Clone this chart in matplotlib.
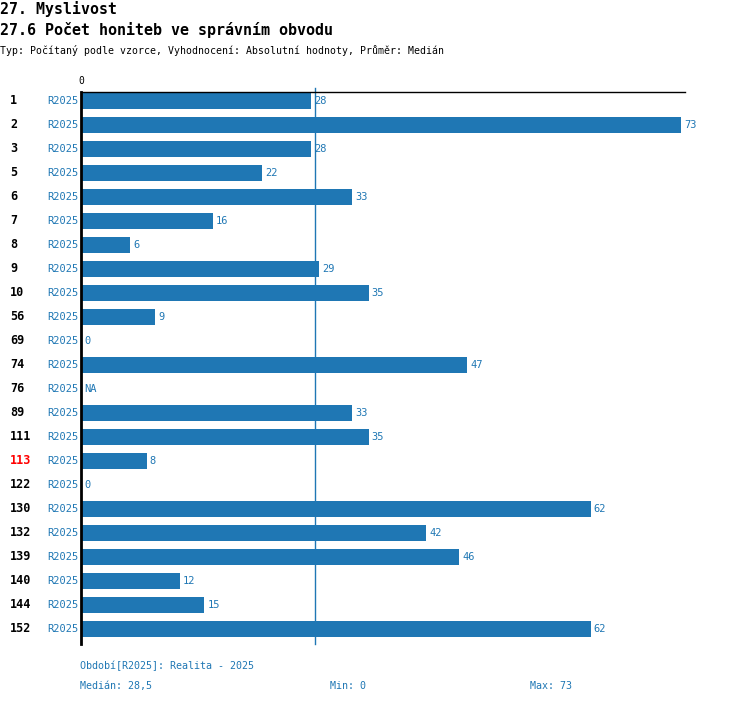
import matplotlib
matplotlib.use("Agg")
import matplotlib.pyplot as plt
import matplotlib.transforms as mtransforms
import numpy as np

rows = ["1", "2", "3", "5", "6", "7", "8", "9", "10", "56", "69", "74", "76",
        "89", "111", "113", "122", "130", "132", "139", "140", "144", "152"]
values = [28, 73, 28, 22, 33, 16, 6, 29, 35, 9, 0, 47, None,
          33, 35, 8, 0, 62, 42, 46, 12, 15, 62]
period = "R2025"
highlight = "113"
median = 28.5
vmin = 0
vmax = 73

BLUE = "#1f77b4"
FONT = "DejaVu Sans Mono"
plt.rcParams["font.family"] = FONT

W, H = 750, 704
fig = plt.figure(figsize=(W / 100, H / 100), dpi=100)

x0_px, x1_px = 81, 685
top_px, bot_px = 92, 644
px_per_unit = (681 - 81) / 73.0
xmax = (x1_px - x0_px) / px_per_unit
n = len(rows)
row_px = 24
ytop = -(101 - top_px) / row_px
ybot = (n - 1) + (bot_px - 629) / row_px

ax = fig.add_axes([x0_px / W, 1 - bot_px / H, (x1_px - x0_px) / W, (bot_px - top_px) / H])
ax.set_xlim(0, xmax)
ax.set_ylim(ybot, ytop)
ax.axis("off")

y = np.arange(n)
vals = [0 if v is None else v for v in values]
ax.barh(y, vals, height=16 / row_px, color=BLUE, zorder=2)

# median line
ax.plot([median, median], [ybot, ytop - 4 / row_px], color=BLUE, lw=1, zorder=1, clip_on=False)
# axes lines
ax.plot([0, xmax], [ytop, ytop], color="black", lw=1, zorder=3, clip_on=False)
ax.plot([0, 0], [ybot, ytop], color="black", lw=2, zorder=3, clip_on=False)
ax.text(0, ytop - 11 / row_px, "0", ha="center", va="center", fontsize=7, color="black")

offset = mtransforms.ScaledTranslation(3 / 100, 0, fig.dpi_scale_trans)
fig_x = mtransforms.blended_transform_factory(fig.transFigure, ax.transData)
for i, (r, v) in enumerate(zip(rows, values)):
    lbl = "NA" if v is None else str(v)
    ax.text(vals[i], i, lbl, ha="left", va="center", fontsize=7.5, color=BLUE,
            transform=ax.transData + offset)
    ax.text(10 / W, i, r, ha="left", va="center", fontsize=8.5, fontweight="bold",
            color="red" if r == highlight else "black", transform=fig_x)
    ax.text(78 / W, i, period, ha="right", va="center", fontsize=7.5, color=BLUE,
            transform=fig_x)

fig.text(0 / W, 1 - 9 / H, "27. Myslivost", ha="left", va="center", fontsize=10.7,
         fontweight="bold", color="black")
fig.text(0 / W, 1 - 30 / H, "27.6 Počet honiteb ve správním obvodu", ha="left", va="center",
         fontsize=10.8, fontweight="bold", color="black")
fig.text(0 / W, 1 - 50 / H, "Typ: Počítaný podle vzorce, Vyhodnocení: Absolutní hodnoty, Průměr: Medián",
         ha="left", va="center", fontsize=7.15, color="black")

fig.text(80 / W, 1 - 666 / H, f"Období[{period}]: Realita - 2025", ha="left", va="center",
         fontsize=7.2, color=BLUE)
fig.text(80 / W, 1 - 686 / H, "Medián: " + str(median).replace(".", ","), ha="left", va="center",
         fontsize=7.2, color=BLUE)
fig.text(330 / W, 1 - 686 / H, f"Min: {vmin}", ha="left", va="center", fontsize=7.2, color=BLUE)
fig.text(530 / W, 1 - 686 / H, f"Max: {vmax}", ha="left", va="center", fontsize=7.2, color=BLUE)

fig.savefig("out.png", dpi=100)
